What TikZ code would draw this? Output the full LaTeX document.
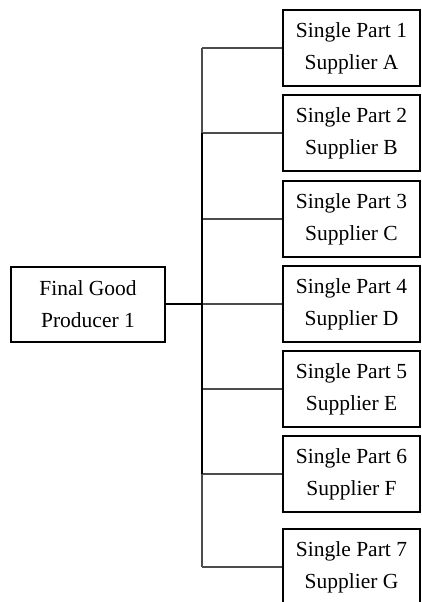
\documentclass[tikz,border=0pt]{standalone}
\usepackage{fontspec}
\setmainfont{Liberation Serif}
\usepackage{tikz}
\usetikzlibrary{calc}
\tikzstyle{tsText} = [ 
    text=black, 
    font=\fontsize{21.5}{31.7}\selectfont
]
\tikzstyle{tsBox} = [ 
    rectangle,
    tsText,
    align=center,
    draw=black,
    line width=2pt,
    inner sep=0pt]
\tikzstyle{tsSupplier} = [ 
    tsBox,
    minimum width=137pt,
    minimum height=76pt]
\tikzstyle{tsThin} = [ 
    draw=black!70,
    line width=1.2pt]
\tikzstyle{tsThick} = [ 
    draw=black,
    line width=2pt]

\begin{document}
\begin{tikzpicture}[x=1pt, y=-1pt]

        \useasboundingbox (0,0) rectangle (422,602);

        \node[  tsBox, 
                minimum width=154pt,
                minimum height=75pt] (final) at (88,304) {Final Good\\Producer 1};

        \node[tsSupplier] (supA) at (351.5,48)  {Single Part 1\\Supplier A};
        \node[tsSupplier] (supB) at (351.5,133) {Single Part 2\\Supplier B};
        \node[tsSupplier] (supC) at (351.5,219) {Single Part 3\\Supplier C};
        \node[tsSupplier] (supD) at (351.5,304) {Single Part 4\\Supplier D};
        \node[tsSupplier] (supE) at (351.5,389) {Single Part 5\\Supplier E};
        \node[tsSupplier] (supF) at (351.5,474) {Single Part 6\\Supplier F};
        \node[tsSupplier] (supG) at (351.5,567) {Single Part 7\\Supplier G};

        \coordinate (trunk) at (202,0);

     	\draw[tsThin] (supA.west) -- (supA.west -| trunk);
     	\draw[tsThin] (supB.west) -- (supB.west -| trunk);
     	\draw[tsThin] (supC.west) -- (supC.west -| trunk);
     	\draw[tsThin] (supD.west) -- (supD.west -| trunk);
     	\draw[tsThin] (supE.west) -- (supE.west -| trunk);
     	\draw[tsThin] (supF.west) -- (supF.west -| trunk);
     	\draw[tsThin] (supG.west) -- (supG.west -| trunk);

     	\draw[tsThin] (supA.west -| trunk) -- (supB.west -| trunk);
     	\draw[tsThick] (supB.west -| trunk) -- (supF.west -| trunk);
     	\draw[tsThin] (supF.west -| trunk) -- (supG.west -| trunk);

     	\draw[tsThick] (final.east) -- (final.east -| trunk);

\end{tikzpicture}
\end{document}
